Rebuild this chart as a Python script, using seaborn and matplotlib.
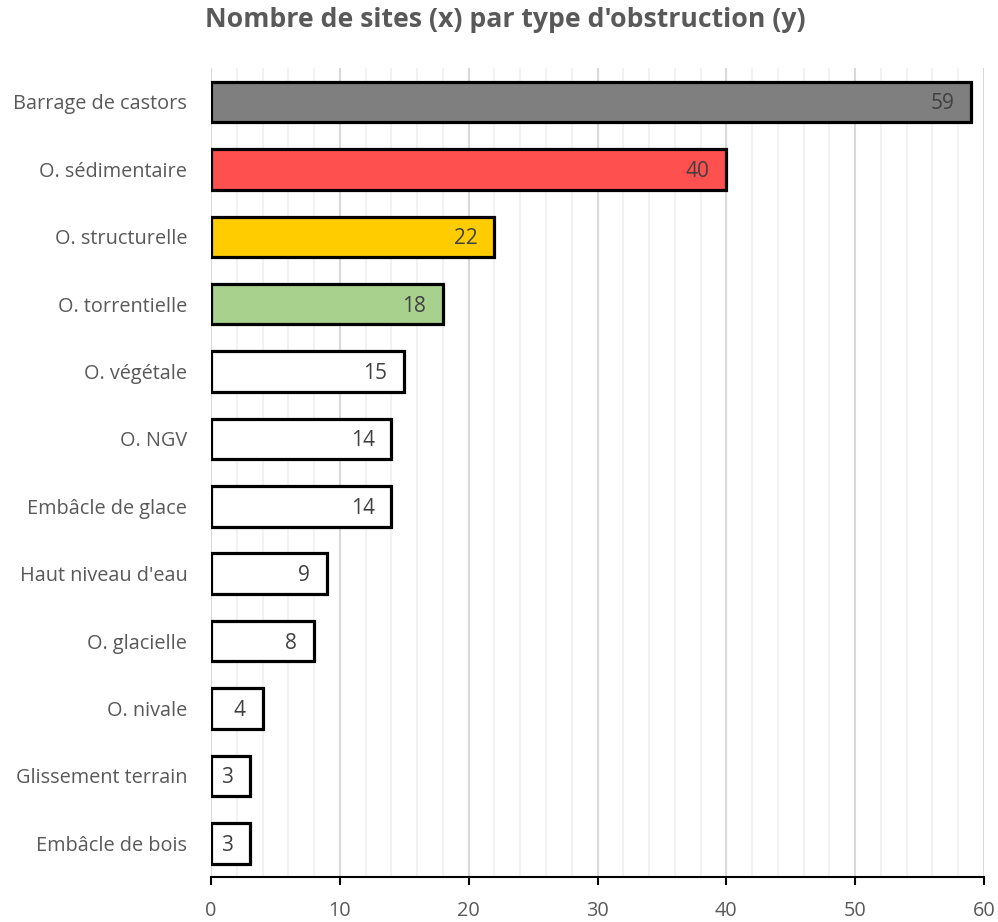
import matplotlib
matplotlib.use("Agg")
import matplotlib.pyplot as plt
import seaborn as sns
import pandas as pd
from matplotlib.ticker import MultipleLocator

categories = ["Barrage de castors", "O. sédimentaire", "O. structurelle", "O. torrentielle",
              "O. végétale", "O. NGV", "Embâcle de glace", "Haut niveau d'eau",
              "O. glacielle", "O. nivale", "Glissement terrain", "Embâcle de bois"]
values = [59, 40, 22, 18, 15, 14, 14, 9, 8, 4, 3, 3]
colors = ["#7f7f7f", "#ff5050", "#ffcc00", "#a9d18e"] + ["#ffffff"] * 8
title = "Nombre de sites (x) par type d'obstruction (y)"

df = pd.DataFrame({"cat": categories, "val": values})

sns.set_theme(style="white")
plt.rcParams['font.family'] = ['Open Sans', 'DejaVu Sans']

fig = plt.figure(figsize=(9.98, 9.22), dpi=100)
ax = fig.add_axes([0.2114, 0.0488, 0.986 - 0.2114, 0.926 - 0.0488])

sns.barplot(data=df, y="cat", x="val", hue="cat", palette=colors, legend=False,
            orient="h", width=0.6, edgecolor="black", linewidth=2.3, saturation=1, ax=ax)

for p, v in zip(ax.patches, values):
    y = p.get_y() + p.get_height() / 2
    ax.text(v - 1.3, y + 0.03, str(v), ha="right", va="center", fontsize=15, color="#404040")

ax.set_xlim(0, 60)
ax.set_ylim(11.5, -0.5)
ax.xaxis.set_major_locator(MultipleLocator(10))
ax.xaxis.set_minor_locator(MultipleLocator(2))
ax.grid(axis="x", which="major", color="#d9d9d9", linewidth=1.5)
ax.grid(axis="x", which="minor", color="#f2f2f2", linewidth=1.5)
ax.set_axisbelow(True)
for s in ["top", "right", "left"]:
    ax.spines[s].set_visible(False)
ax.spines["bottom"].set_color("black")
ax.spines["bottom"].set_linewidth(1.5)
ax.tick_params(axis="x", which="major", bottom=True, direction="out", length=6, width=1.5,
               color="black", labelsize=14.3, labelcolor="#595959", pad=11)
ax.tick_params(axis="x", which="minor", bottom=False)
ax.tick_params(axis="y", left=False, length=0, labelsize=14.3, labelcolor="#595959", pad=17)
ax.set_xlabel("")
ax.set_ylabel("")
fig.text(0.506, 0.978, title, ha="center", va="center", fontsize=19.2, fontweight="bold", color="#595959")

fig.savefig("out.png", dpi=100)
